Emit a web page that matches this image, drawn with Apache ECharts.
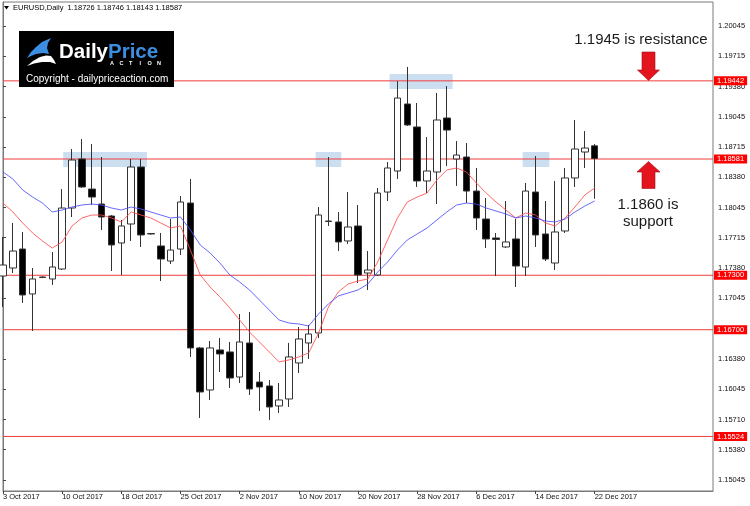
<!DOCTYPE html>
<html>
<head>
<meta charset="utf-8">
<script src="https://cdn.jsdelivr.net/npm/echarts@6/dist/echarts.min.js"></script>
<style>
  html, body { margin: 0; padding: 0; background: #fff; }
  #chart { width: 750px; height: 506px; }
</style>
</head>
<body>
<div id="chart"></div>
<script>
// EURUSD daily bars
var dates = ['3 Oct 2017','4 Oct 2017','5 Oct 2017','6 Oct 2017','8 Oct 2017','9 Oct 2017','10 Oct 2017','11 Oct 2017','12 Oct 2017','13 Oct 2017',
  '16 Oct 2017','17 Oct 2017','18 Oct 2017','19 Oct 2017','20 Oct 2017','22 Oct 2017','23 Oct 2017','24 Oct 2017','25 Oct 2017','26 Oct 2017',
  '27 Oct 2017','30 Oct 2017','31 Oct 2017','1 Nov 2017','2 Nov 2017','3 Nov 2017','6 Nov 2017','7 Nov 2017','8 Nov 2017','9 Nov 2017',
  '10 Nov 2017','13 Nov 2017','14 Nov 2017','15 Nov 2017','16 Nov 2017','17 Nov 2017','20 Nov 2017','21 Nov 2017','22 Nov 2017','23 Nov 2017',
  '24 Nov 2017','27 Nov 2017','28 Nov 2017','29 Nov 2017','30 Nov 2017','1 Dec 2017','4 Dec 2017','5 Dec 2017','6 Dec 2017','7 Dec 2017',
  '8 Dec 2017','11 Dec 2017','12 Dec 2017','13 Dec 2017','14 Dec 2017','15 Dec 2017','18 Dec 2017','19 Dec 2017','20 Dec 2017','21 Dec 2017',
  '22 Dec 2017'];

var opens = [1.17292,1.17380,1.17589,1.17094,1.17275,1.17259,1.17369,1.18041,1.18581,1.18250,
  1.18085,1.17953,1.17656,1.17865,1.18493,1.17760,1.17623,1.17457,1.17589,1.18096,
  1.16499,1.16036,1.16477,1.16455,1.16179,1.16554,1.16124,1.16080,1.15860,1.15937,
  1.16334,1.16554,1.16664,1.17892,1.17887,1.17678,1.17843,1.17325,1.17303,1.18217,
  1.18449,1.19187,1.18934,1.18339,1.18438,1.19033,1.18581,1.18603,1.18228,1.17920,
  1.17711,1.17612,1.17700,1.17391,1.18217,1.17755,1.17435,1.17788,1.18372,1.18658,
  1.18726];
var closes = [1.17413,1.17567,1.17083,1.17259,1.17281,1.17391,1.18041,1.18570,1.18273,1.18162,
  1.17942,1.17634,1.17843,1.18493,1.17744,1.17755,1.17479,1.17578,1.18107,1.16499,
  1.16014,1.16499,1.16433,1.16168,1.16565,1.16047,1.16069,1.15849,1.15926,1.16400,
  1.16598,1.16653,1.17964,1.17898,1.17667,1.17832,1.17303,1.17358,1.18206,1.18482,
  1.19253,1.18956,1.18339,1.18449,1.19011,1.18900,1.18625,1.18228,1.17931,1.17700,
  1.17694,1.17667,1.17402,1.18228,1.17744,1.17479,1.17777,1.18372,1.18691,1.18702,
  1.18587];
var lows = [1.16950,1.17325,1.16995,1.16686,1.17270,1.17193,1.17358,1.17942,1.18262,1.18074,
  1.17799,1.17347,1.17303,1.17678,1.17612,1.17749,1.17237,1.17424,1.17523,1.16400,
  1.15728,1.15926,1.16234,1.16058,1.16113,1.15981,1.15805,1.15706,1.15783,1.15849,
  1.16223,1.16378,1.16609,1.17843,1.17567,1.17645,1.17215,1.17138,1.17292,1.18118,
  1.18361,1.18945,1.18273,1.18206,1.18085,1.18504,1.18284,1.18096,1.17799,1.17600,
  1.17292,1.17600,1.17171,1.17292,1.17612,1.17457,1.17358,1.17766,1.18273,1.18482,
  1.18143];
var highs = [1.17722,1.17876,1.17777,1.17380,1.17287,1.17556,1.18250,1.18691,1.18801,1.18746,
  1.18603,1.17964,1.17909,1.18581,1.18581,1.17766,1.17766,1.17920,1.18173,1.18361,
  1.16510,1.16576,1.16609,1.16565,1.16873,1.16895,1.16234,1.16146,1.16113,1.16554,
  1.16730,1.16752,1.18052,1.18603,1.17997,1.18217,1.18074,1.17567,1.18262,1.18548,
  1.19440,1.19595,1.19198,1.18823,1.19308,1.19385,1.18779,1.18757,1.18482,1.18151,
  1.17766,1.18118,1.17920,1.18317,1.18614,1.18118,1.18339,1.18482,1.19011,1.18889,
  1.18746];

// moving averages (red = fast, blue = slow)
var maFast = [1.18096,1.17997,1.17876,1.17766,1.17678,1.17600,1.17667,1.17843,1.17931,1.17964,
  1.17964,1.17931,1.17887,1.17997,1.17964,1.17931,1.17876,1.17821,1.17843,1.17578,
  1.17303,1.17171,1.17061,1.16939,1.16807,1.16675,1.16565,1.16455,1.16345,1.16367,
  1.16400,1.16444,1.16664,1.16950,1.17116,1.17204,1.17237,1.17259,1.17446,1.17689,
  1.17931,1.18107,1.18162,1.18206,1.18350,1.18460,1.18482,1.18438,1.18317,1.18206,
  1.18107,1.18019,1.17931,1.17986,1.17964,1.17876,1.17843,1.17931,1.18052,1.18184,
  1.18262];
var maSlow = [1.18438,1.18361,1.18239,1.18162,1.18096,1.17997,1.18019,1.18052,1.18074,1.18085,
  1.18074,1.18041,1.18019,1.18052,1.18030,1.17997,1.17964,1.17931,1.17942,1.17799,
  1.17634,1.17545,1.17435,1.17303,1.17226,1.17138,1.17028,1.16917,1.16807,1.16774,
  1.16763,1.16741,1.16873,1.16984,1.17072,1.17105,1.17138,1.17204,1.17336,1.17446,
  1.17578,1.17689,1.17755,1.17821,1.17909,1.17997,1.18074,1.18096,1.18085,1.18041,
  1.18008,1.17975,1.17931,1.17953,1.17931,1.17898,1.17887,1.17920,1.17997,1.18063,
  1.18118];

// horizontal levels and price-axis ticks
var levels = [1.19442, 1.18581, 1.17300, 1.16700, 1.15524];
var tickValues = [1.20045, 1.19715, 1.19380, 1.19045, 1.18715, 1.18380, 1.18045, 1.17715,
  1.17380, 1.17045, 1.16380, 1.16045, 1.15710, 1.15380, 1.15045];

// highlighted zones: [from bar, to bar, low, high]
var zones = [
  [6.1, 14.6, 1.18493, 1.18658],
  [31.7, 34.3, 1.18493, 1.18658],
  [39.2, 45.6, 1.19352, 1.19517],
  [52.7, 55.4, 1.18493, 1.18658]
];

var emptyBars = 12;
var cats = dates.slice();
for (var k = 0; k < emptyBars; k++) cats.push('pad' + k);
var lastSlot = cats.length - 1;

var candles = [];
for (var i = 0; i < dates.length; i++) {
  candles.push([opens[i], closes[i], lows[i], highs[i]]);
}
var last = dates.length - 1;
var header = 'EURUSD,Daily  ' + opens[last].toFixed(5) + ' ' + highs[last].toFixed(5) + ' ' +
  lows[last].toFixed(5) + ' ' + closes[last].toFixed(5);

var FONT = 'Liberation Sans';
var LEVEL_RED = '#f03c3c';
var labelEvery = function (idx) { return idx % 6 === 0 && idx < dates.length; };

var chart = echarts.init(document.getElementById('chart'), null, { renderer: 'canvas' });

// one flat line series per level, with its price tag at the right end
var levelSeries = levels.map(function (v) {
  return {
    name: 'level ' + v,
    type: 'line',
    xAxisIndex: 1,
    data: [[0, v], [lastSlot, v]],
    z: 1,
    clip: false,
    silent: true,
    showSymbol: false,
    symbol: 'none',
    color: LEVEL_RED,
    lineStyle: { color: LEVEL_RED, width: 1, type: 'solid' },
    endLabel: {
      show: true,
      distance: 1,
      formatter: function () { return v.toFixed(5); },
      backgroundColor: '#ff0000',
      color: '#fff',
      fontSize: 7.5,
      fontFamily: FONT,
      lineHeight: 9,
      padding: [0, 3, 0, 3]
    }
  };
});

var logoLetters = [];
'ACTION'.split('').forEach(function (ch, j) {
  logoLetters.push({
    type: 'text', x: 112 + j * 9.4, y: 63, z: 12,
    style: { text: ch, font: 'bold 5.5px "' + FONT + '"', fill: '#fff', textAlign: 'center', textVerticalAlign: 'middle' }
  });
});

var option = {
  animation: false,
  backgroundColor: '#fff',
  grid: {
    left: 2, right: 37, top: 2, bottom: 15,
    show: true, borderColor: '#7a7a7a', borderWidth: 1
  },
  xAxis: [
    {
      type: 'category',
      data: cats,
      boundaryGap: false,
      axisLine: { lineStyle: { color: '#7a7a7a' } },
      axisTick: { length: 3, interval: labelEvery, lineStyle: { color: '#444' } },
      axisLabel: {
        interval: labelEvery, align: 'left', margin: 2,
        fontSize: 7.5, fontFamily: FONT, color: '#111'
      },
      splitLine: { show: false }
    },
    { type: 'value', min: 0, max: lastSlot, show: false, splitLine: { show: false } }
  ],
  yAxis: {
    type: 'value',
    position: 'right',
    min: 1.14923,
    max: 1.20311,
    axisLine: { show: true, lineStyle: { color: '#7a7a7a' } },
    axisTick: { show: true, length: 3, customValues: tickValues, lineStyle: { color: '#444' } },
    axisLabel: {
      customValues: tickValues,
      formatter: function (v) { return v.toFixed(5); },
      margin: 5, fontSize: 7.5, fontFamily: FONT, color: '#111'
    },
    splitLine: { show: false }
  },
  series: levelSeries.concat([
    {
      name: 'EURUSD',
      type: 'candlestick',
      data: candles,
      barWidth: 7,
      z: 2,
      itemStyle: {
        color: '#ffffff',
        color0: '#000000',
        borderColor: '#333',
        borderColor0: '#333',
        borderWidth: 1
      }
    },
    {
      name: 'MA fast',
      type: 'line',
      data: maFast,
      showSymbol: false,
      z: 3,
      lineStyle: { color: '#ff4d4d', width: 1, opacity: 0.85 }
    },
    {
      name: 'MA slow',
      type: 'line',
      data: maSlow,
      showSymbol: false,
      z: 3,
      lineStyle: { color: '#4d4dff', width: 1, opacity: 0.85 }
    },
    {
      name: 'zones',
      type: 'line',
      xAxisIndex: 1,
      data: [],
      z: 4,
      silent: true,
      markArea: {
        silent: true,
        precision: 5,
        itemStyle: { color: 'rgba(140,185,225,0.45)' },
        data: zones.map(function (b) {
          return [{ xAxis: b[0], yAxis: b[2] }, { xAxis: b[1], yAxis: b[3] }];
        })
      }
    }
  ]),
  graphic: [
    { type: 'polygon', shape: { points: [[4, 6], [9, 6], [6.5, 9.5]] }, style: { fill: '#000' } },
    { type: 'text', x: 13, y: 8, style: { text: header, font: '7.5px "' + FONT + '"', fill: '#000', textVerticalAlign: 'middle' } },

    // logo
    { type: 'rect', z: 10, shape: { x: 19, y: 31, width: 155, height: 56 }, style: { fill: '#000' } },
    { type: 'polygon', z: 11, shape: { points: [[27, 58], [31, 52], [36, 47], [42, 42], [51, 38], [48, 43], [47, 48], [49, 54], [43, 53], [36, 54], [31, 56]] }, style: { fill: '#3b8ee2' } },
    { type: 'polygon', z: 11, shape: { points: [[27, 66], [33, 61], [40, 57], [46, 55.5], [51, 56], [54, 60], [56, 64], [50, 62], [42, 62], [34, 63.5]] }, style: { fill: '#fff' } },
    {
      type: 'text', x: 59, y: 52, z: 12,
      style: {
        text: '{w|Daily}{b|Price}',
        textVerticalAlign: 'middle',
        rich: {
          w: { fontSize: 20.5, fontWeight: 'bold', fontFamily: FONT, fill: '#fff', color: '#fff' },
          b: { fontSize: 20.5, fontWeight: 'bold', fontFamily: FONT, fill: '#3b8ee2', color: '#3b8ee2' }
        }
      }
    }
  ].concat(logoLetters).concat([
    { type: 'text', x: 26, y: 79, z: 12, style: { text: 'Copyright - dailypriceaction.com', font: '10px "' + FONT + '"', fill: '#fff', textVerticalAlign: 'middle' } },

    // annotations
    { type: 'text', x: 641, y: 40, z: 12, style: { text: '1.1945 is resistance', font: '15px "' + FONT + '"', fill: '#1a1a1a', textAlign: 'center', textVerticalAlign: 'middle' } },
    { type: 'polygon', z: 12, shape: { points: [[642, 52], [655, 52], [655, 70], [659.5, 70], [648.5, 80.5], [637.5, 70], [642, 70]] }, style: { fill: '#e3141d', stroke: '#a10e14', lineWidth: 0.6 } },
    { type: 'polygon', z: 12, shape: { points: [[648.5, 161.5], [660, 172], [655, 172], [655, 188.5], [642, 188.5], [642, 172], [637, 172]] }, style: { fill: '#e3141d', stroke: '#a10e14', lineWidth: 0.6 } },
    { type: 'text', x: 648, y: 205, z: 12, style: { text: '1.1860 is', font: '15px "' + FONT + '"', fill: '#1a1a1a', textAlign: 'center', textVerticalAlign: 'middle' } },
    { type: 'text', x: 648, y: 222, z: 12, style: { text: 'support', font: '15px "' + FONT + '"', fill: '#1a1a1a', textAlign: 'center', textVerticalAlign: 'middle' } }
  ])
};

chart.setOption(option);
</script>
</body>
</html>
